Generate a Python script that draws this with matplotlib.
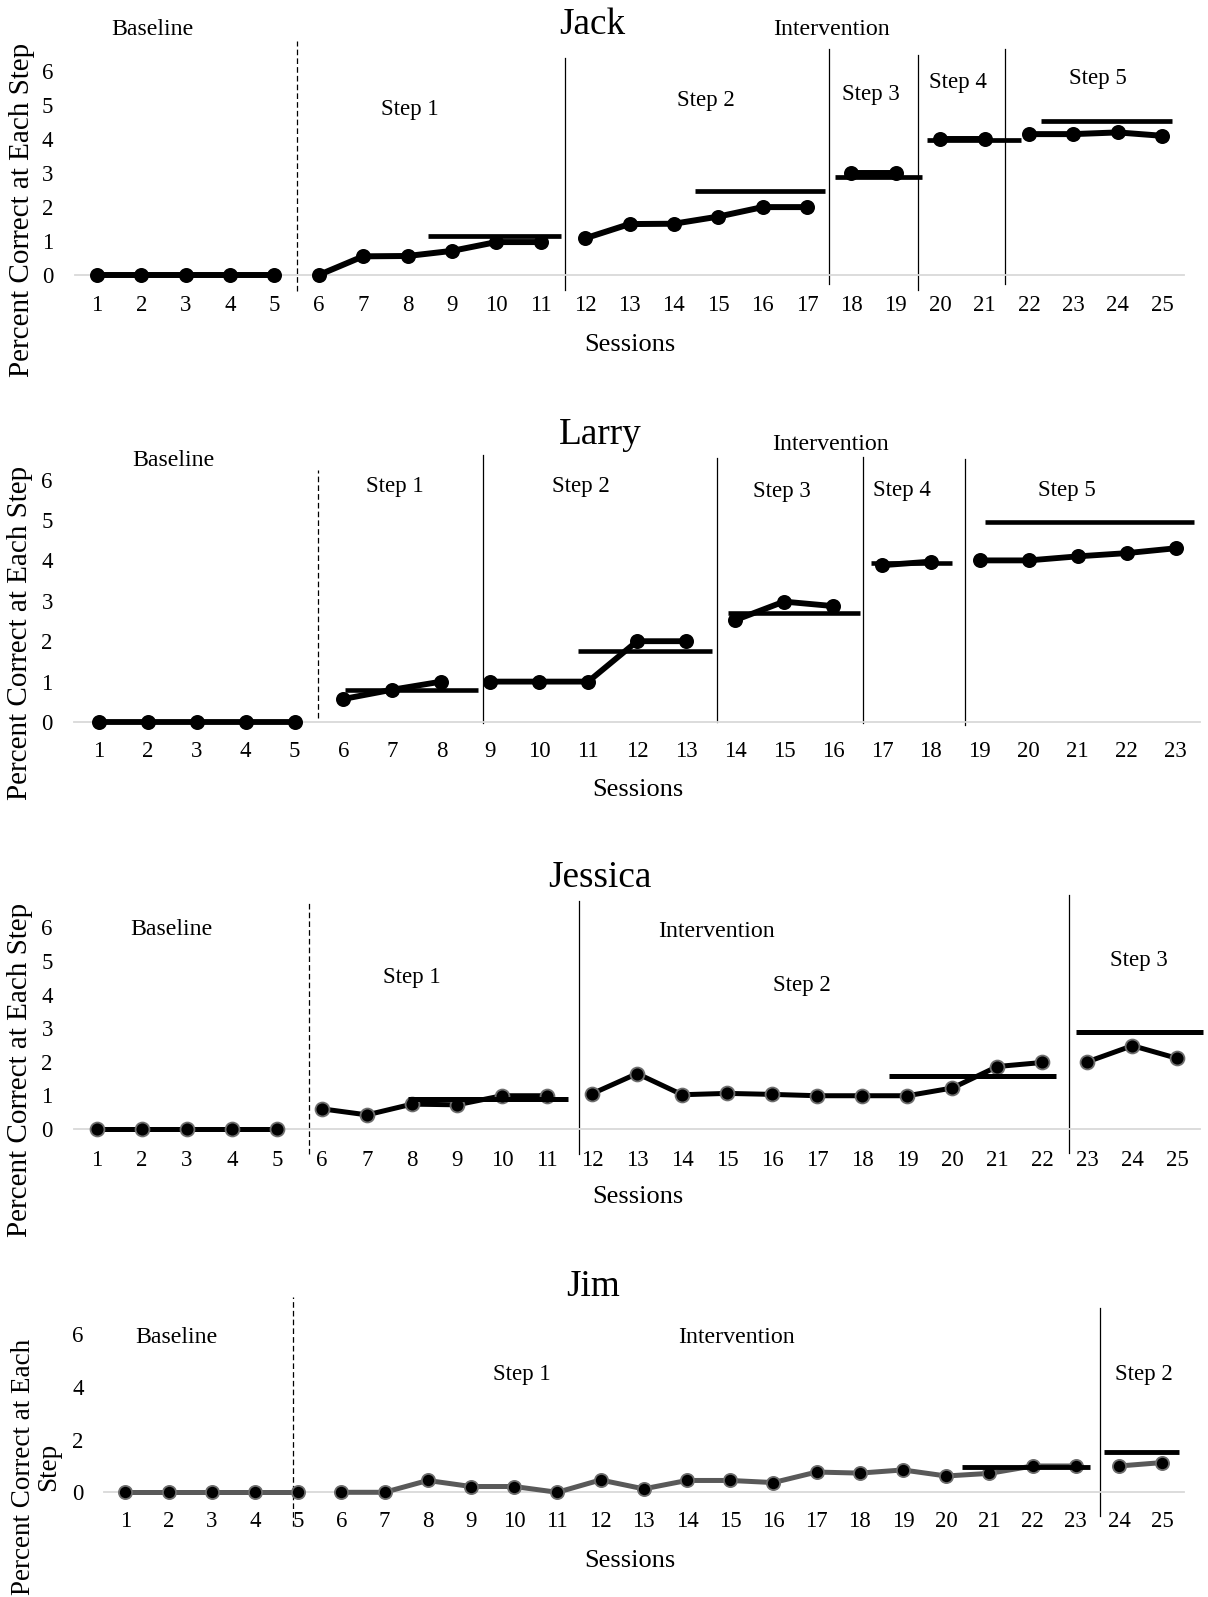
import matplotlib
matplotlib.use("Agg")
import matplotlib.pyplot as plt
from matplotlib.transforms import offset_copy

plt.rcParams['font.family'] = ['Liberation Serif', 'DejaVu Serif']

W, H = 1208, 1597

# ---------------- data ----------------
# Jack
jack_values = [0, 0, 0, 0, 0, 0, 0.55, 0.56, 0.71, 0.97, 0.97, 1.08, 1.5, 1.51, 1.72, 2.0, 2.0,
               3.0, 3.0, 4.0, 4.0, 4.15, 4.15, 4.2, 4.1]
jack_phase_ends = [5, 11, 17, 19, 21, 25]
jack_crit_level = [1.16, 2.48, 2.88, 3.97, 4.53]
jack_crit_start = [8.45, 14.47, 17.63, 19.7, 22.27]
jack_crit_end = [11.45, 17.41, 19.58, 21.83, 25.23]
jack_dividers = [5.5, 11.55, 17.5, 19.5, 21.45]

# Larry
larry_values = [0, 0, 0, 0, 0, 0.57, 0.8, 1.0, 1.0, 1.0, 1.0, 2.0, 2.0, 2.52, 2.98, 2.87,
                3.88, 3.97, 4.0, 4.0, 4.1, 4.18, 4.3]
larry_phase_ends = [5, 8, 13, 16, 18, 23]
larry_crit_level = [0.78, 1.75, 2.69, 3.93, 4.96]
larry_crit_start = [6.04, 10.8, 13.85, 16.77, 19.1]
larry_crit_end = [8.74, 13.52, 16.56, 18.43, 23.38]
larry_dividers = [5.47, 8.86, 13.64, 16.62, 18.7]

# Jessica
jessica_values = [0, 0, 0, 0, 0, 0.6, 0.42, 0.74, 0.72, 0.99, 0.99, 1.05, 1.65, 1.02, 1.06,
                  1.03, 0.99, 0.99, 0.99, 1.22, 1.86, 1.98, 2.0, 2.48, 2.1]
jessica_phase_ends = [5, 11, 22, 25]
jessica_crit_level = [0.88, 1.57, 2.9]
jessica_crit_start = [7.9, 18.6, 22.75]
jessica_crit_end = [11.46, 22.3, 25.57]
jessica_dividers = [5.72, 11.7, 22.6]

# Jim
jim_values = [0, 0, 0, 0, 0, 0, 0, 0.45, 0.22, 0.22, 0, 0.47, 0.13, 0.45, 0.45, 0.37, 0.77,
              0.73, 0.85, 0.62, 0.72, 1.0, 1.0, 1.0, 1.13]
jim_phase_ends = [5, 23, 25]
jim_crit_level = [0.95, 1.53]
jim_crit_start = [20.36, 23.65]
jim_crit_end = [23.33, 25.4]
jim_dividers = [4.89, 23.55]

fig = plt.figure(figsize=(W / 100, H / 100), dpi=100)


def make_axes(x_lo, x_hi, y0, ppu, n, ymax=6):
    ax = fig.add_axes([x_lo / W, 1 - y0 / H, (x_hi - x_lo) / W, ymax * ppu / H])
    ax.set_xlim(0.5, n + 0.5)
    ax.set_ylim(0, ymax)
    for s in ['left', 'top', 'right']:
        ax.spines[s].set_visible(False)
    ax.spines['bottom'].set_color('#d9d9d9')
    ax.spines['bottom'].set_linewidth(1.3)
    ax.set_xticks(range(1, n + 1))
    ax.patch.set_alpha(0)
    return ax


def draw_series(ax, values, phase_ends, line_color, lw, edge_color, ms):
    start = 1
    for end in phase_ends:
        xs = list(range(start, end + 1))
        ys = values[start - 1:end]
        ax.plot(xs, ys, color=line_color, lw=lw, marker='o', ms=ms,
                mfc='black', mec=edge_color, mew=1.3, solid_capstyle='butt',
                clip_on=False, zorder=3)
        start = end + 1


def draw_criteria(ax, levels, starts, ends, lw):
    for lv, s, e in zip(levels, starts, ends):
        ax.plot([s, e], [lv, lv], color='black', lw=lw, solid_capstyle='butt',
                clip_on=False, zorder=4)


def draw_dividers(ax, xs, bottoms, tops):
    for i, (x, b, t) in enumerate(zip(xs, bottoms, tops)):
        if i == 0:
            ax.plot([x, x], [b, t], color='black', lw=0.9, dashes=(4.5, 2.5),
                    clip_on=False, zorder=2)
        else:
            ax.plot([x, x], [b, t], color='black', lw=0.9, clip_on=False, zorder=2)


def label(ax, x, y, s, size):
    tr = offset_copy(ax.transData, fig=fig, x=0, y=-1.9, units='points')
    ax.text(x, y, s, fontsize=size, ha='center', va='center', transform=tr, clip_on=False)


TICK = 16.5
PHASE = 17.2
STEP = 16.5
TITLE = 26.8
SESS = 19
YLAB = 21

# ---------------- Jack ----------------
ax = make_axes(74.6, 1184.4, 275.0, 33.95, 25)
draw_dividers(ax, jack_dividers, [-0.47, -0.45, -0.27, -0.45, -0.27], [6.9, 6.4, 6.65, 6.48, 6.65])
draw_series(ax, jack_values, jack_phase_ends, 'black', 4.3, 'black', 9.5)
draw_criteria(ax, jack_crit_level, jack_crit_start, jack_crit_end, 3.4)
ax.set_yticks(range(0, 7))
ax.tick_params(length=0, labelsize=TICK)
ax.tick_params(axis='x', pad=14.3)
ax.tick_params(axis='y', pad=15.5)
label(ax, 12.17, 7.45, 'Jack', TITLE)
label(ax, 2.26, 7.32, 'Baseline', PHASE)
label(ax, 17.56, 7.32, 'Intervention', PHASE)
for lab, x, y in [('Step 1', 8.06, 4.95), ('Step 2', 14.72, 5.23), ('Step 3', 18.43, 5.38),
                  ('Step 4', 20.4, 5.74), ('Step 5', 23.55, 5.86)]:
    label(ax, x, y, lab, STEP)
label(ax, 13.0, -1.98, 'Sessions', SESS)
fig.text(22 / W, 1 - 210 / H, 'Percent Correct at Each Step', rotation=90,
         fontsize=YLAB, ha='center', va='center')

# ---------------- Larry ----------------
ax = make_axes(74.3, 1200.0, 722.0, 40.4, 23)
draw_dividers(ax, larry_dividers, [0.1, -0.03, 0.0, -0.03, -0.07], [6.25, 6.6, 6.53, 6.57, 6.5])
draw_series(ax, larry_values, larry_phase_ends, 'black', 4.2, 'black', 9.5)
draw_criteria(ax, larry_crit_level, larry_crit_start, larry_crit_end, 3.3)
ax.set_yticks(range(0, 7))
ax.tick_params(length=0, labelsize=TICK)
ax.tick_params(axis='x', pad=13.7)
ax.tick_params(axis='y', pad=15.5)
label(ax, 11.24, 7.18, 'Larry', TITLE)
label(ax, 2.52, 6.55, 'Baseline', PHASE)
label(ax, 15.96, 6.93, 'Intervention', PHASE)
for lab, x, y in [('Step 1', 7.04, 5.89), ('Step 2', 10.86, 5.89), ('Step 3', 14.96, 5.77),
                  ('Step 4', 17.42, 5.79), ('Step 5', 20.77, 5.79)]:
    label(ax, x, y, lab, STEP)
label(ax, 12.01, -1.61, 'Sessions', SESS)
fig.text(20.4 / W, 1 - 633 / H, 'Percent Correct at Each Step', rotation=90,
         fontsize=YLAB, ha='center', va='center')

# ---------------- Jessica ----------------
ax = make_axes(74.3, 1200.0, 1129.0, 33.6, 25)
draw_dividers(ax, jessica_dividers, [-0.75, -0.75, -0.7], [6.8, 6.8, 6.97])
draw_series(ax, jessica_values, jessica_phase_ends, 'black', 3.6, '#6e6e6e', 10)
draw_criteria(ax, jessica_crit_level, jessica_crit_start, jessica_crit_end, 3.6)
ax.set_yticks(range(0, 7))
ax.tick_params(length=0, labelsize=TICK)
ax.tick_params(axis='x', pad=15.2)
ax.tick_params(axis='y', pad=15.5)
label(ax, 12.18, 7.55, 'Jessica', TITLE)
label(ax, 2.65, 6.03, 'Baseline', PHASE)
label(ax, 14.76, 5.97, 'Intervention', PHASE)
for lab, x, y in [('Step 1', 7.99, 4.58), ('Step 2', 16.66, 4.36), ('Step 3', 24.14, 5.09)]:
    label(ax, x, y, lab, STEP)
label(ax, 13.01, -1.96, 'Sessions', SESS)
fig.text(20.4 / W, 1 - 1069.5 / H, 'Percent Correct at Each Step', rotation=90,
         fontsize=YLAB, ha='center', va='center')

# ---------------- Jim ----------------
ax = make_axes(103.7, 1183.8, 1492.3, 26.3, 25)
draw_dividers(ax, jim_dividers, [-1.3, -0.9], [7.44, 7.02])
draw_series(ax, jim_values, jim_phase_ends, '#595959', 3.6, '#6e6e6e', 9.5)
draw_criteria(ax, jim_crit_level, jim_crit_start, jim_crit_end, 3.5)
ax.set_yticks([0, 2, 4, 6])
ax.tick_params(length=0, labelsize=TICK)
ax.tick_params(axis='x', pad=13.7)
ax.tick_params(axis='y', pad=14.5)
label(ax, 11.83, 7.9, 'Jim', TITLE)
label(ax, 2.18, 6.0, 'Baseline', PHASE)
label(ax, 15.15, 6.0, 'Intervention', PHASE)
for lab, x, y in [('Step 1', 10.17, 4.57), ('Step 2', 24.58, 4.57)]:
    label(ax, x, y, lab, STEP)
label(ax, 12.67, -2.5, 'Sessions', SESS)
fig.text(36 / W, 1 - 1467 / H, 'Percent Correct at Each\nStep', rotation=90,
         fontsize=19.5, ha='center', va='center', multialignment='center', linespacing=1.0)

fig.savefig('out.png', dpi=100)
